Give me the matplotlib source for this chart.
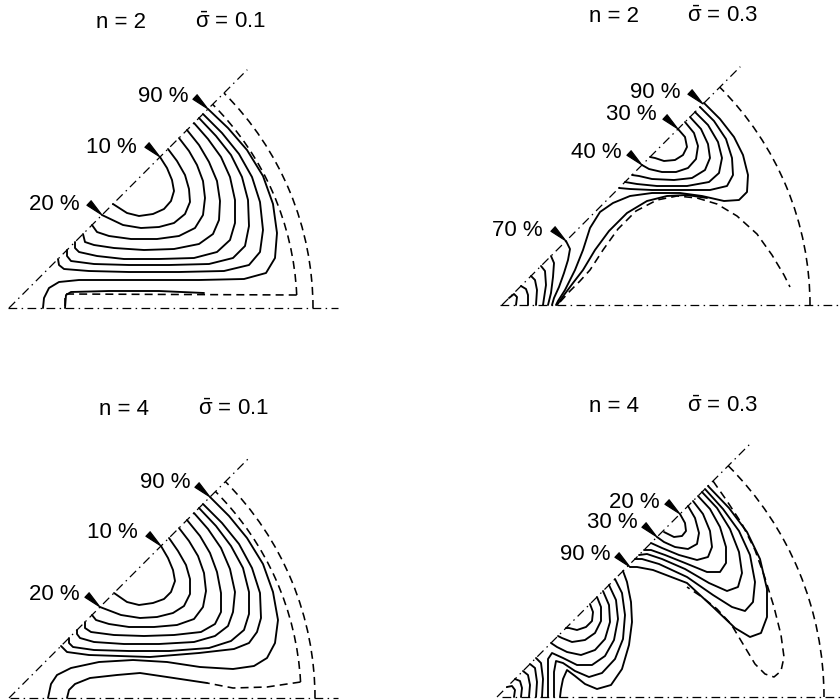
import numpy as np
import matplotlib
matplotlib.use("Agg")
import matplotlib.pyplot as plt
from matplotlib.patches import Arc

plt.rcParams['font.family'] = ['Liberation Sans', 'DejaVu Sans']
plt.rcParams['mathtext.fontset'] = 'custom'
plt.rcParams['mathtext.rm'] = 'Liberation Sans'
plt.rcParams['mathtext.it'] = 'Liberation Sans'
plt.rcParams['mathtext.bf'] = 'Liberation Sans:bold'

# ---------------- data (units: crack-tip coordinates, one unit = 100 px) -----
# Panel A : n = 2, sigma = 0.1
A_TITLE = ("n = 2", r"$\bar{\sigma}$ = 0.1")
A_DIAG_LEN = 3.37
A_BASE = (-0.01, 3.29)
A_OUTER_R = 3.04
A_INNER_R = 2.88
A_INNER_Y = 0.13
A_INNER_TAIL = [(0.56, 0.14), (0.56, 0.0)]
A_SOLID = [
    [(1.51,1.51),(1.58,1.40),(1.63,1.28),(1.65,1.17),(1.62,1.07),(1.55,0.99),(1.44,0.94),(1.30,0.92),(1.18,0.95),(1.04,1.04)],
    [(1.59,1.59),(1.68,1.47),(1.76,1.33),(1.80,1.19),(1.81,1.06),(1.76,0.94),(1.65,0.85),(1.50,0.81),(1.32,0.80),(1.14,0.83),(0.93,0.93)],
    [(1.70,1.70),(1.80,1.57),(1.88,1.43),(1.94,1.27),(1.96,1.10),(1.94,0.93),(1.86,0.80),(1.70,0.72),(1.48,0.69),(1.22,0.69),(1.00,0.72),(0.88,0.76),(0.83,0.83)],
    [(1.78,1.78),(1.90,1.63),(2.00,1.46),(2.08,1.27),(2.11,1.07),(2.10,0.88),(2.04,0.74),(1.90,0.64),(1.65,0.59),(1.35,0.58),(1.05,0.60),(0.85,0.63),(0.76,0.66),(0.74,0.74)],
    [(1.85,1.85),(1.99,1.69),(2.12,1.51),(2.21,1.31),(2.26,1.08),(2.26,0.85),(2.21,0.68),(2.08,0.56),(1.85,0.50),(1.50,0.49),(1.15,0.49),(0.88,0.52),(0.70,0.56),(0.66,0.60),(0.66,0.66)],
    [(1.90,1.90),(2.07,1.72),(2.22,1.53),(2.33,1.31),(2.39,1.08),(2.40,0.82),(2.36,0.62),(2.24,0.50),(2.00,0.44),(1.60,0.43),(1.20,0.43),(0.85,0.44),(0.62,0.47),(0.58,0.52),(0.58,0.58)],
    [(1.94,1.94),(2.13,1.75),(2.30,1.54),(2.43,1.31),(2.51,1.06),(2.54,0.78),(2.51,0.56),(2.40,0.43),(2.15,0.37),(1.70,0.36),(1.20,0.36),(0.80,0.37),(0.55,0.39),(0.50,0.43),(0.49,0.49)],
    [(1.99,1.99),(2.19,1.80),(2.38,1.58),(2.54,1.32),(2.64,1.04),(2.68,0.75),(2.66,0.50),(2.57,0.35),(2.35,0.29),(1.90,0.28),(1.30,0.28),(0.70,0.28),(0.50,0.26),(0.40,0.20),(0.35,0.10),(0.34,0.0)],
    [(0.56,0.0),(0.57,0.13),(0.62,0.16),(1.00,0.17),(1.50,0.17),(1.95,0.15)],
]
A_DASHED = []
A_LABELS = [("90 %", (1.79, 2.11), (1.99, 1.99)),
            ("10 %", (1.28, 1.60), (1.51, 1.51)),
            ("20 %", (0.71, 1.03), (0.93, 0.93))]
A_TITLE_POS = ((1.12, 2.85), (2.22, 2.85))

# Panel B : n = 2, sigma = 0.3
B_TITLE = ("n = 2", r"$\bar{\sigma}$ = 0.3")
B_DIAG_LEN = 3.37
B_BASE = (-0.02, 3.40)
B_OUTER_R = 3.08
B_SOLID = [
    [(1.76,1.76),(1.83,1.68),(1.85,1.58),(1.81,1.50),(1.73,1.45),(1.62,1.44),(1.53,1.47),(1.48,1.48)],
    [(1.83,1.83),(1.92,1.72),(1.96,1.59),(1.94,1.46),(1.86,1.37),(1.74,1.33),(1.60,1.33),(1.47,1.36),(1.40,1.40)],
    [(1.88,1.88),(1.99,1.76),(2.06,1.61),(2.08,1.47),(2.03,1.35),(1.90,1.27),(1.72,1.25),(1.50,1.26),(1.37,1.29),(1.30,1.30)],
    [(1.93,1.93),(2.06,1.80),(2.16,1.63),(2.20,1.47),(2.17,1.32),(2.07,1.23),(1.85,1.19),(1.55,1.19),(1.35,1.21),(1.23,1.23)],
    [(1.98,1.98),(2.12,1.84),(2.24,1.66),(2.30,1.47),(2.31,1.30),(2.25,1.19),(2.08,1.15),(1.80,1.15),(1.50,1.15),(1.28,1.16),(1.17,1.17)],
    [(2.02,2.02),(2.18,1.86),(2.32,1.68),(2.41,1.50),(2.46,1.30),(2.45,1.13),(2.37,1.05),(2.22,1.04),(2.00,1.09),(1.78,1.12),(1.50,1.12),(1.28,1.09),(1.11,1.02),(0.98,0.93),(0.88,0.77),(0.81,0.55),(0.73,0.35),(0.63,0.15),(0.56,0.04),(0.54,0.0)],
    [(0.55,0.0),(0.62,0.10),(0.71,0.22),(0.81,0.35),(0.93,0.55),(1.07,0.74),(1.25,0.92),(1.45,1.04),(1.65,1.09),(1.85,1.10),(2.05,1.07)],
    [(0.64,0.64),(0.68,0.56),(0.66,0.45),(0.62,0.32),(0.57,0.18),(0.52,0.07),(0.50,0.0)],
    [(0.07,0.07),(0.12,0.11),(0.15,0.08),(0.14,0.0)],
    [(0.19,0.19),(0.24,0.16),(0.26,0.10),(0.26,0.0)],
    [(0.29,0.29),(0.33,0.25),(0.35,0.15),(0.34,0.0)],
    [(0.39,0.39),(0.43,0.34),(0.44,0.20),(0.41,0.0)],
    [(0.49,0.49),(0.52,0.42),(0.51,0.28),(0.49,0.12),(0.46,0.0)],
]
B_DASHED = [
    [(0.58,0.03),(0.68,0.14),(0.78,0.24),(0.88,0.35),(1.01,0.55),(1.16,0.76),(1.34,0.94),(1.55,1.05),(1.75,1.09),(1.95,1.07),(2.15,1.01),(2.35,0.89),(2.55,0.71),(2.70,0.50),(2.82,0.30),(2.88,0.18)],
]
B_LABELS = [("90 %", (1.78, 2.13), (2.01, 2.01)),
            ("30 %", (1.55, 1.90), (1.76, 1.76)),
            ("40 %", (1.20, 1.52), (1.40, 1.40)),
            ("70 %", (0.41, 0.75), (0.64, 0.64))]
B_TITLE_POS = ((1.12, 2.88), (2.21, 2.88))

# Panel C : n = 4, sigma = 0.1
C_TITLE = ("n = 4", r"$\bar{\sigma}$ = 0.1")
C_DIAG_LEN = 3.39
C_BASE = (0.01, 3.29)
C_OUTER_R = 3.06
C_INNER_R = 2.92
C_INNER_Y = 0.16
C_INNER_TAIL = [(2.58, 0.11), (2.24, 0.10), (1.98, 0.15)]
C_SOLID = [
    [(1.52,1.52),(1.59,1.40),(1.64,1.28),(1.66,1.17),(1.62,1.06),(1.55,0.99),(1.44,0.95),(1.30,0.93),(1.18,0.96),(1.05,1.05)],
    [(1.60,1.60),(1.69,1.47),(1.77,1.33),(1.81,1.19),(1.81,1.04),(1.75,0.92),(1.64,0.85),(1.48,0.81),(1.31,0.80),(1.12,0.83),(0.91,0.91)],
    [(1.70,1.70),(1.80,1.57),(1.89,1.42),(1.95,1.25),(1.97,1.07),(1.94,0.91),(1.85,0.79),(1.68,0.73),(1.45,0.71),(1.20,0.71),(1.00,0.74),(0.87,0.78),(0.83,0.83)],
    [(1.78,1.78),(1.91,1.62),(2.01,1.45),(2.08,1.26),(2.12,1.05),(2.12,0.86),(2.06,0.74),(1.92,0.66),(1.65,0.63),(1.35,0.62),(1.05,0.63),(0.82,0.66),(0.76,0.70),(0.76,0.76)],
    [(1.85,1.85),(1.99,1.69),(2.12,1.50),(2.21,1.29),(2.26,1.06),(2.24,0.86),(2.19,0.72),(2.06,0.62),(1.85,0.56),(1.50,0.54),(1.15,0.54),(0.85,0.56),(0.71,0.60),(0.68,0.64),(0.68,0.68)],
    [(1.90,1.90),(2.07,1.72),(2.22,1.52),(2.34,1.30),(2.40,1.06),(2.40,0.84),(2.35,0.68),(2.22,0.57),(2.00,0.50),(1.60,0.47),(1.20,0.47),(0.85,0.48),(0.64,0.51),(0.60,0.55),(0.60,0.60)],
    [(1.94,1.94),(2.13,1.75),(2.30,1.54),(2.43,1.30),(2.51,1.05),(2.52,0.80),(2.48,0.66),(2.40,0.55),(2.25,0.49),(1.90,0.45),(1.41,0.41),(0.80,0.43),(0.58,0.46),(0.52,0.52)],
    [(2.01,2.01),(2.20,1.82),(2.38,1.60),(2.54,1.34),(2.64,1.06),(2.69,0.78),(2.66,0.55),(2.58,0.40),(2.45,0.32),(2.24,0.29),(1.91,0.31),(1.58,0.36),(1.24,0.38),(0.90,0.36),(0.62,0.30),(0.48,0.23),(0.42,0.14),(0.39,0.0)],
    [(0.58,0.0),(0.60,0.08),(0.66,0.14),(0.81,0.20),(1.08,0.23),(1.31,0.25),(1.58,0.21),(1.78,0.18),(1.98,0.15)],
]
C_DASHED = []
C_LABELS = [("90 %", (1.81, 2.15), (2.01, 2.01)),
            ("10 %", (1.29, 1.65), (1.52, 1.52)),
            ("20 %", (0.71, 1.03), (0.91, 0.91))]
C_TITLE_POS = ((1.15, 2.88), (2.25, 2.88))

# Panel D : n = 4, sigma = 0.3
D_TITLE = ("n = 4", r"$\bar{\sigma}$ = 0.3")
D_DIAG_LEN = 3.60
D_BASE = (0.05, 3.45)
D_OUTER_R = 3.27
D_SOLID = [
    [(1.83,1.83),(1.88,1.74),(1.89,1.66),(1.85,1.61),(1.77,1.60),(1.67,1.65)],
    [(1.91,1.91),(1.98,1.79),(2.02,1.64),(2.00,1.53),(1.91,1.48),(1.78,1.50),(1.67,1.55),(1.60,1.60)],
    [(1.96,1.96),(2.06,1.83),(2.13,1.66),(2.15,1.50),(2.11,1.40),(2.00,1.37),(1.82,1.42),(1.65,1.49),(1.54,1.54)],
    [(2.01,2.01),(2.13,1.88),(2.23,1.70),(2.29,1.50),(2.29,1.34),(2.23,1.25),(2.10,1.25),(1.88,1.34),(1.68,1.42),(1.54,1.47),(1.47,1.47)],
    [(2.05,2.05),(2.20,1.89),(2.33,1.68),(2.42,1.45),(2.45,1.24),(2.41,1.10),(2.30,1.06),(2.12,1.14),(1.88,1.28),(1.65,1.38),(1.50,1.43),(1.42,1.42)],
    [(2.08,2.08),(2.26,1.88),(2.42,1.66),(2.53,1.42),(2.58,1.15),(2.56,0.95),(2.48,0.86),(2.35,0.90),(2.16,1.02),(1.90,1.20),(1.62,1.33),(1.45,1.38),(1.38,1.38)],
    [(2.11,2.11),(2.32,1.89),(2.50,1.65),(2.63,1.38),(2.70,1.08),(2.70,0.80),(2.64,0.64),(2.53,0.60),(2.38,0.69),(2.16,0.90),(1.90,1.14),(1.56,1.27),(1.40,1.30),(1.33,1.30)],
    [(0.93,0.93),(0.96,0.85),(0.95,0.76),(0.89,0.70),(0.80,0.67),(0.72,0.69),(0.69,0.69)],
    [(1.00,1.00),(1.04,0.90),(1.04,0.76),(0.98,0.64),(0.88,0.57),(0.75,0.55),(0.65,0.59),(0.61,0.61)],
    [(1.06,1.06),(1.12,0.92),(1.13,0.75),(1.08,0.58),(0.98,0.47),(0.84,0.42),(0.70,0.45),(0.60,0.50),(0.54,0.54)],
    [(1.12,1.12),(1.19,0.97),(1.21,0.78),(1.17,0.57),(1.08,0.41),(0.95,0.32),(0.80,0.32),(0.66,0.39),(0.55,0.44),(0.51,0.38),(0.51,0.20),(0.51,0.0)],
    [(1.18,1.18),(1.25,1.04),(1.28,0.82),(1.26,0.58),(1.18,0.38),(1.05,0.24),(0.92,0.20),(0.78,0.26),(0.66,0.34),(0.59,0.36),(0.57,0.25),(0.57,0.10),(0.57,0.0)],
    [(1.26,1.26),(1.30,1.15),(1.34,0.95),(1.35,0.75),(1.32,0.52),(1.25,0.28),(1.14,0.12),(1.00,0.08),(0.88,0.13),(0.78,0.21),(0.70,0.27),(0.66,0.18),(0.64,0.08),(0.63,0.0)],
    [(0.10,0.10),(0.15,0.11),(0.18,0.07),(0.17,0.0)],
    [(0.18,0.18),(0.23,0.16),(0.25,0.09),(0.24,0.0)],
    [(0.26,0.26),(0.31,0.22),(0.33,0.12),(0.32,0.0)],
    [(0.33,0.33),(0.38,0.29),(0.40,0.15),(0.39,0.0)],
    [(0.39,0.39),(0.44,0.34),(0.46,0.18),(0.45,0.0)],
]
D_DASHED = [
    [(2.16,2.16),(2.30,1.96),(2.45,1.73),(2.58,1.47),(2.68,1.19),(2.77,0.90),(2.84,0.62),(2.87,0.40),(2.84,0.26),(2.77,0.20),(2.68,0.23),(2.58,0.33),(2.46,0.53),(2.34,0.73),(2.20,0.88),(2.05,1.00),(1.90,1.10)],
]
D_LABELS = [("20 %", (1.63, 1.95), (1.83, 1.83)),
            ("30 %", (1.41, 1.74), (1.60, 1.60)),
            ("90 %", (1.13, 1.42), (1.33, 1.30))]
D_TITLE_POS = ((1.17, 2.90), (2.26, 2.90))

# ---------------- drawing ---------------------------------------------------
W, H = 840, 700
FS = 16
fig = plt.figure(figsize=(W / 100, H / 100), dpi=100)

def make_ax(ox, oy, x0, x1, y0, y1):
    left = (ox + x0 * 100) / W
    bottom = (H - oy + y0 * 100) / H
    ax = fig.add_axes([left, bottom, (x1 - x0) * 100 / W, (y1 - y0) * 100 / H])
    ax.set_xlim(x0, x1)
    ax.set_ylim(y0, y1)
    ax.axis('off')
    ax.patch.set_alpha(0)
    return ax

DASHDOT = (0, (7, 3.5, 1.2, 3.5))
DASH = (0, (5, 3.2))

def draw_panel(ax, title, title_pos, diag_len, base, outer_r, solid, dashed,
               labels, inner=None):
    c45 = np.cos(np.pi / 4)
    ax.plot([0, diag_len * c45], [0, diag_len * c45], color='k', lw=0.9,
            linestyle=DASHDOT, clip_on=False)
    ax.plot(list(base), [0, 0], color='k', lw=0.9, linestyle=DASHDOT, clip_on=False)
    ax.add_patch(Arc((0, 0), 2 * outer_r, 2 * outer_r, theta1=0, theta2=45,
                     color='k', lw=1.15, linestyle=DASH))
    if inner is not None:
        r, yc, tail = inner
        tc = np.degrees(np.arcsin(yc / r))
        ax.add_patch(Arc((0, 0), 2 * r, 2 * r, theta1=tc, theta2=45,
                         color='k', lw=1.15, linestyle=DASH))
        pts = [(np.sqrt(r * r - yc * yc), yc)] + tail
        ax.plot([p[0] for p in pts], [p[1] for p in pts], color='k', lw=1.15,
                linestyle=DASH, clip_on=False)
    for line in dashed:
        ax.plot([p[0] for p in line], [p[1] for p in line], color='k', lw=1.15,
                linestyle=DASH, clip_on=False)
    for line in solid:
        ax.plot([p[0] for p in line], [p[1] for p in line], color='k', lw=1.35,
                solid_joinstyle='round', solid_capstyle='round', clip_on=False)
    for txt, tpos, target in labels:
        ax.text(tpos[0], tpos[1], txt, ha='right', va='center', fontsize=FS)
        ax.annotate('', xy=target, xytext=(target[0] - 0.13, target[1] + 0.12),
                    arrowprops=dict(arrowstyle='wedge,tail_width=0.45,shrink_factor=0.5',
                                    fc='k', ec='k', lw=0.8, shrinkA=0, shrinkB=0))
    ax.text(title_pos[0][0], title_pos[0][1], title[0], ha='center', va='center', fontsize=FS)
    ax.text(title_pos[1][0], title_pos[1][1], title[1], ha='center', va='center', fontsize=FS)

axA = make_ax(9, 308, -0.09, 3.45, -0.08, 3.0)
draw_panel(axA, A_TITLE, A_TITLE_POS, A_DIAG_LEN, A_BASE, A_OUTER_R, A_SOLID,
           A_DASHED, A_LABELS, inner=(A_INNER_R, A_INNER_Y, A_INNER_TAIL))

axB = make_ax(502, 305, -0.09, 3.38, -0.08, 3.0)
draw_panel(axB, B_TITLE, B_TITLE_POS, B_DIAG_LEN, B_BASE, B_OUTER_R, B_SOLID,
           B_DASHED, B_LABELS)

axC = make_ax(9, 698, -0.09, 3.45, -0.02, 3.0)
draw_panel(axC, C_TITLE, C_TITLE_POS, C_DIAG_LEN, C_BASE, C_OUTER_R, C_SOLID,
           C_DASHED, C_LABELS, inner=(C_INNER_R, C_INNER_Y, C_INNER_TAIL))

axD = make_ax(497, 697, -0.09, 3.43, -0.03, 3.0)
draw_panel(axD, D_TITLE, D_TITLE_POS, D_DIAG_LEN, D_BASE, D_OUTER_R, D_SOLID,
           D_DASHED, D_LABELS)

fig.savefig("out.png", dpi=100)
